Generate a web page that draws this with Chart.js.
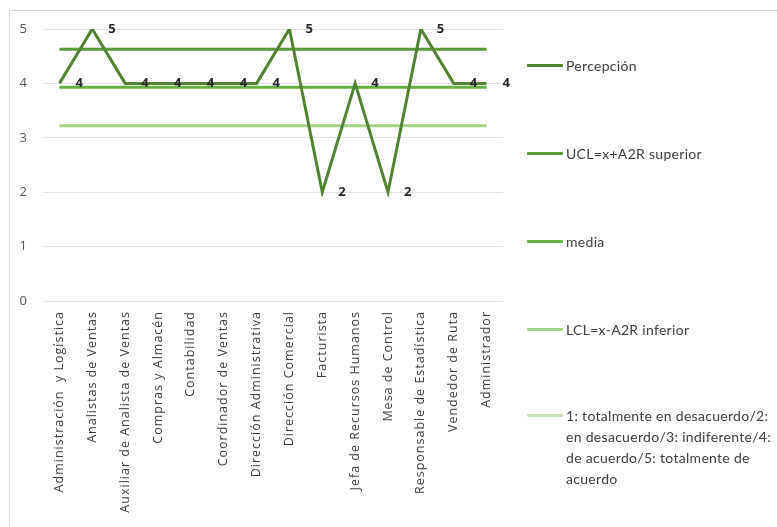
<!DOCTYPE html>
<html>
<head>
<meta charset="utf-8">
<script src="https://cdn.jsdelivr.net/npm/chart.js@4.4.1/dist/chart.umd.min.js"></script>
<style>
  html, body { margin: 0; padding: 0; background: #fff; overflow: hidden; }
  #wrap { position: relative; width: 777px; height: 527px; }
  #frame { position: absolute; left: 9px; top: 10px; width: 800px; height: 600px; border: 1px solid #d9d9d9; }
  #chart { position: absolute; left: 0; top: 0; }
  #legend { position: absolute; left: 527px; top: 0; font-family: Lato, sans-serif; font-size: 14px; color: #404040; letter-spacing: 0.3px; }
  .item { position: absolute; left: 0; white-space: nowrap; line-height: 21px; }
  .swatch { position: absolute; left: 0; top: 9px; width: 36px; height: 3px; border-radius: 1px; }
  .txt { position: absolute; left: 39px; top: 0; }
</style>
</head>
<body>
<div id="wrap">
  <div id="frame"></div>
  <canvas id="chart" width="777" height="527"></canvas>
  <div id="legend"></div>
</div>
<script>
// categories (puestos)
const categories = [
    "Administración  y Logística",
    "Analistas de Ventas",
    "Auxiliar de Analista de Ventas",
    "Compras y Almacén",
    "Contabilidad",
    "Coordinador de Ventas",
    "Dirección Administrativa",
    "Dirección Comercial",
    "Facturista",
    "Jefa de Recursos Humanos",
    "Mesa de Control",
    "Responsable de Estadística",
    "Vendedor de Ruta",
    "Administrador"
];

// series values
const percepcion = [4, 5, 4, 4, 4, 4, 4, 5, 2, 4, 2, 5, 4, 4];
const ucl = [4.63, 4.63, 4.63, 4.63, 4.63, 4.63, 4.63, 4.63, 4.63, 4.63, 4.63, 4.63, 4.63, 4.63];
const media = [3.93, 3.93, 3.93, 3.93, 3.93, 3.93, 3.93, 3.93, 3.93, 3.93, 3.93, 3.93, 3.93, 3.93];
const lcl = [3.22, 3.22, 3.22, 3.22, 3.22, 3.22, 3.22, 3.22, 3.22, 3.22, 3.22, 3.22, 3.22, 3.22];
const escala = [];

// tick labels
const yTicks = [0, 1, 2, 3, 4, 5];

// legend texts
const seriesNames = [
    "Percepción",
    "UCL=x+A2R superior",
    "media",
    "LCL=x-A2R inferior",
    ["1: totalmente en desacuerdo/2:", "en desacuerdo/3: indiferente/4:", "de acuerdo/5: totalmente de", "acuerdo"]
];

const colors = ["#548235", "#5b9a3b", "#6aaf45", "#a9d18e", "#c5e0b4"];
const legendTops = [55, 143, 231, 319, 405];

// wider letter spacing for the axis text, like the original
const spacing = {
    id: "spacing",
    beforeDraw(chart) { chart.ctx.letterSpacing = "1px"; },
    afterDraw(chart) { chart.ctx.letterSpacing = "0px"; }
};

// draw value labels next to Percepción points
const valueLabels = {
    id: "valueLabels",
    afterDatasetsDraw(chart) {
        const ctx = chart.ctx;
        const meta = chart.getDatasetMeta(0);
        ctx.save();
        ctx.letterSpacing = "0px";
        ctx.font = "bold 13px 'Open Sans', sans-serif";
        ctx.fillStyle = "#262626";
        ctx.textAlign = "left";
        ctx.textBaseline = "middle";
        meta.data.forEach((pt, i) => {
            ctx.fillText(String(percepcion[i]), pt.x + 16, pt.y);
        });
        ctx.restore();
    }
};

function lineSet(label, data, color) {
    return {
        label: label,
        data: data,
        borderColor: color,
        backgroundColor: color,
        borderWidth: 3,
        pointRadius: 0,
        tension: 0,
        fill: false
    };
}

const ctx = document.getElementById("chart").getContext("2d");
new Chart(ctx, {
    type: "line",
    data: {
        labels: categories,
        datasets: [
            lineSet(seriesNames[0], percepcion, colors[0]),
            lineSet(seriesNames[1], ucl, colors[1]),
            lineSet(seriesNames[2], media, colors[2]),
            lineSet(seriesNames[3], lcl, colors[3]),
            lineSet(seriesNames[4].join(" "), escala, colors[4])
        ]
    },
    options: {
        responsive: false,
        animation: false,
        layout: { padding: { left: 0, right: 274, top: 29, bottom: 0 } },
        plugins: {
            legend: { display: false },
            tooltip: { enabled: false }
        },
        scales: {
            x: {
                offset: true,
                grid: { display: false },
                border: { display: false },
                afterFit(scale) { scale.height = 226; },
                ticks: {
                    minRotation: 90,
                    maxRotation: 90,
                    autoSkip: false,
                    padding: 2,
                    color: "#404040",
                    font: { family: "'Open Sans', sans-serif", size: 12.5 }
                }
            },
            y: {
                min: 0,
                max: 5,
                afterFit(scale) { scale.width = 43; },
                afterBuildTicks(scale) { scale.ticks = yTicks.map(v => ({ value: v })); },
                grid: { color: "#e3e3e3", lineWidth: 1, drawTicks: false },
                border: { display: false },
                ticks: {
                    padding: 15,
                    color: "#595959",
                    font: { family: "'Open Sans', sans-serif", size: 13 }
                }
            }
        }
    },
    plugins: [spacing, valueLabels]
});

// HTML legend
const legend = document.getElementById("legend");
seriesNames.forEach((name, i) => {
    const item = document.createElement("div");
    item.className = "item";
    item.style.top = legendTops[i] + "px";
    const sw = document.createElement("div");
    sw.className = "swatch";
    sw.style.background = colors[i];
    const txt = document.createElement("div");
    txt.className = "txt";
    const lines = Array.isArray(name) ? name : [name];
    lines.forEach((l, j) => {
        if (j > 0) txt.appendChild(document.createElement("br"));
        txt.appendChild(document.createTextNode(l));
    });
    item.appendChild(sw);
    item.appendChild(txt);
    legend.appendChild(item);
});
</script>
</body>
</html>
